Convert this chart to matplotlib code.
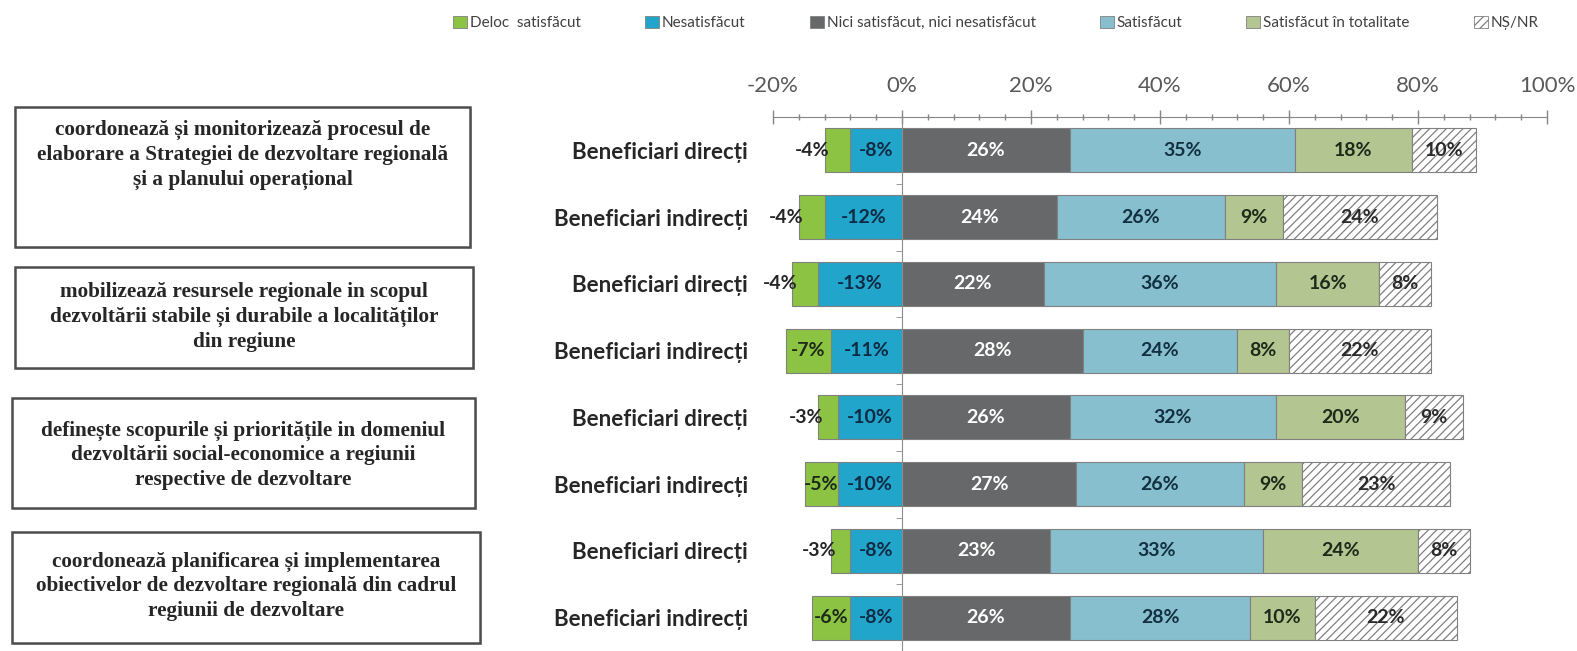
import matplotlib
matplotlib.use('Agg')
import matplotlib.pyplot as plt
import matplotlib.patches as mpatches
import numpy as np

# date din grafic (procente)
randuri = ['Beneficiari direcți', 'Beneficiari indirecți'] * 4
deloc = [4, 4, 4, 7, 3, 5, 3, 6]
nesat = [8, 12, 13, 11, 10, 10, 8, 8]
nici = [26, 24, 22, 28, 26, 27, 23, 26]
satis = [35, 26, 36, 24, 32, 26, 33, 28]
total = [18, 9, 16, 8, 20, 9, 24, 10]
nsnr = [10, 24, 8, 22, 9, 23, 8, 22]

categorii = ['Deloc  satisfăcut', 'Nesatisfăcut', 'Nici satisfăcut, nici nesatisfăcut',
             'Satisfăcut', 'Satisfăcut în totalitate', 'NȘ/NR']
culori = ['#8cc342', '#22a5ca', '#676869', '#87bfcf', '#b3c590', '#ffffff']
culori_text = ['#1d2a1a', '#0e2a44', '#ffffff', '#12303f', '#1d2a1a', '#2a2a2a']

functii = [
    'coordonează și monitorizează procesul de\nelaborare a Strategiei de dezvoltare regională\nși a planului operațional',
    'mobilizează resursele regionale in scopul\ndezvoltării stabile și durabile a localităților\ndin regiune',
    'definește scopurile și prioritățile in domeniul\ndezvoltării social-economice a regiunii\nrespective de dezvoltare',
    'coordonează planificarea și implementarea\nobiectivelor de dezvoltare regională din cadrul\nregiunii de dezvoltare',
]

xticks = [-0.2, 0, 0.2, 0.4, 0.6, 0.8, 1.0]

plt.rcParams['font.family'] = ['Lato', 'DejaVu Sans']
plt.rcParams['hatch.color'] = '#b0b0b0'
plt.rcParams['hatch.linewidth'] = 0.9

W, H = 1577, 651
fig = plt.figure(figsize=(W / 100, H / 100), dpi=100)
ax = fig.add_axes([773 / W, 0, (1547 - 773) / W, 1 - 117 / H])

y = np.arange(len(randuri))
h = 0.66
fs = 14
d = np.array(deloc) / 100
n = np.array(nesat) / 100
serii_poz = [np.array(s) / 100 for s in (nici, satis, total, nsnr)]

# partea negativa
ax.barh(y, -n, height=h, color=culori[1], edgecolor='#808080', lw=0.8)
ax.barh(y, -d, left=-n, height=h, color=culori[0], edgecolor='#808080', lw=0.8)
for i in range(len(y)):
    ax.text(-n[i] / 2, y[i], f'-{nesat[i]}%', ha='center', va='center',
            fontsize=fs, fontweight='bold', color=culori_text[1])
    if deloc[i] >= 5:
        ax.text(-n[i] - d[i] / 2, y[i], f'-{deloc[i]}%', ha='center', va='center',
                fontsize=fs, fontweight='bold', color=culori_text[0])
    else:
        ax.text(-n[i] - d[i] + 0.008, y[i], f'-{deloc[i]}%', ha='right', va='center',
                fontsize=fs, fontweight='bold', color='#262626')

# partea pozitiva
stanga = np.zeros(len(y))
for k, s in enumerate(serii_poz):
    ax.barh(y, s, left=stanga, height=h, color=culori[k + 2], edgecolor='#808080', lw=0.8,
            hatch='////' if k == 3 else None)
    vals = (nici, satis, total, nsnr)[k]
    for i in range(len(y)):
        ax.text(stanga[i] + s[i] / 2, y[i], f'{vals[i]}%', ha='center', va='center',
                fontsize=fs, fontweight='bold', color=culori_text[k + 2])
    stanga = stanga + s

ax.set_xlim(-0.2, 1.0)
ax.set_ylim(len(y) - 0.5, -0.5)

# axa x sus
ax.xaxis.tick_top()
ax.set_xticks(xticks)
ax.set_xticklabels([f'{int(round(t * 100))}%' for t in xticks])
ax.set_xticks(np.arange(-0.2, 1.0001, 0.04), minor=True)
ax.tick_params(axis='x', which='major', direction='inout', length=10, width=1,
               color='#868686', labelsize=16, labelcolor='#595959', pad=10)
ax.tick_params(axis='x', which='minor', direction='inout', length=5, width=1, color='#868686')

# axa y pe linia de zero
ax.spines['left'].set_position(('data', 0))
ax.spines['left'].set_color('#8c8c8c')
ax.spines['top'].set_color('#868686')
ax.spines['right'].set_visible(False)
ax.spines['bottom'].set_visible(False)
ax.set_yticks(y)
ax.set_yticklabels(randuri)
ax.set_yticks(np.arange(0.5, len(y) - 0.4, 1), minor=True)
ax.tick_params(axis='y', which='major', length=0, pad=111, labelsize=16, labelcolor='#262626')
ax.tick_params(axis='y', which='minor', direction='out', length=4, color='#8c8c8c')
for t in ax.get_yticklabels():
    t.set_fontweight('bold')
ax.set_zorder(1)

# legenda
handles = [mpatches.Patch(facecolor=c, edgecolor='#808080', lw=0.6, hatch='////' if i == 5 else None)
           for i, c in enumerate(culori)]
fig.legend(handles, categorii, loc='center', bbox_to_anchor=(996 / W, 1 - 23 / H), ncol=6,
           frameon=False, fontsize=11, handlelength=0.9, handleheight=0.9, handletextpad=0.2,
           columnspacing=4.2, labelcolor='#404040')

# casetele din stanga
casete = [(15, 107, 470, 247, 155), (15, 267, 473, 368, 317),
          (12, 398, 475, 508, 455), (12, 532, 480, 643, 586)]
for (x0, y0, x1, y1, yc), txt in zip(casete, functii):
    fig.patches.append(mpatches.Rectangle((x0 / W + 0.0015, 1 - (y1 + 2) / H), (x1 - x0) / W, (y1 - y0) / H,
                                          transform=fig.transFigure, facecolor='#d9d9d9',
                                          edgecolor='none', zorder=0))
    fig.patches.append(mpatches.Rectangle((x0 / W, 1 - y1 / H), (x1 - x0) / W, (y1 - y0) / H,
                                          transform=fig.transFigure, facecolor='white',
                                          edgecolor='#4d4d4d', lw=1.8, zorder=1))
    fig.text((x0 + x1) / 2 / W, 1 - yc / H, txt, ha='center', va='center', fontsize=15.3,
             fontweight='bold', family='Liberation Serif', color='#262626', linespacing=1.3,
             zorder=2)

fig.savefig('out.png', dpi=100)
